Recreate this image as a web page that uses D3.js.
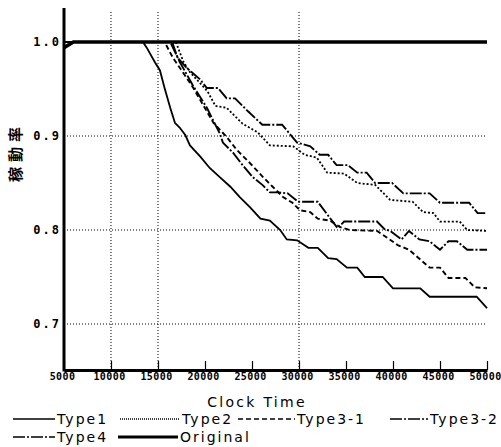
<!DOCTYPE html>
<html>
<head>
<meta charset="utf-8">
<script src="https://cdn.jsdelivr.net/npm/d3@7"></script>
<style>
body { margin: 0; background: #fff; }
svg { display: block; }
.ytick text { font-family: "DejaVu Sans Mono", monospace; font-weight: bold; font-size: 12px; letter-spacing: 2px; }
.xtick text { font-family: "DejaVu Sans Mono", monospace; font-weight: bold; font-size: 10px; letter-spacing: 0.4px; }
.lbl { font-family: "DejaVu Sans", sans-serif; font-size: 14px; letter-spacing: 2px; }
</style>
</head>
<body>
<div class="chart"></div>
<script>
// time, ratio pairs
var type1 = [[5000,1.0],[13400,1.0],[13800,0.994],[14700,0.978],[15200,0.970],[15700,0.951],[16300,0.930],[16800,0.914],[17300,0.909],[17900,0.901],[18400,0.890],[19500,0.878],[20500,0.866],[21600,0.856],[22700,0.846],[23700,0.835],[24800,0.824],[25900,0.812],[26900,0.810],[28000,0.800],[28700,0.790],[29800,0.789],[31000,0.781],[32000,0.781],[33100,0.770],[34000,0.769],[35100,0.760],[36200,0.760],[37000,0.750],[38900,0.750],[40000,0.738],[42900,0.738],[43900,0.729],[48900,0.729],[50000,0.717]];
var type2 = [[5000,1.0],[16900,1.0],[17700,0.979],[18400,0.968],[19500,0.956],[20300,0.947],[21100,0.932],[22300,0.930],[24000,0.913],[25600,0.904],[26900,0.890],[29400,0.889],[30600,0.880],[31900,0.877],[33000,0.861],[34800,0.860],[36200,0.850],[38100,0.848],[39700,0.832],[42100,0.830],[43200,0.819],[44300,0.818],[45000,0.809],[47100,0.809],[47900,0.800],[50000,0.799]];
var type31 = [[5000,1.0],[15700,1.0],[16600,0.983],[17700,0.967],[18700,0.952],[19800,0.933],[20900,0.914],[22300,0.899],[23400,0.885],[24800,0.871],[26200,0.856],[27200,0.846],[28300,0.835],[29300,0.829],[30100,0.821],[31200,0.819],[32000,0.812],[33300,0.810],[34400,0.803],[35400,0.800],[38300,0.799],[39500,0.791],[40500,0.784],[41700,0.779],[43200,0.766],[43900,0.760],[45000,0.760],[45900,0.749],[47700,0.749],[48700,0.739],[50000,0.738]];
var type32 = [[5000,1.0],[16300,1.0],[17300,0.979],[18700,0.954],[20200,0.930],[21600,0.902],[21900,0.893],[23000,0.882],[24000,0.869],[25100,0.856],[26100,0.848],[26900,0.840],[27800,0.840],[28800,0.839],[29900,0.830],[32000,0.830],[34100,0.802],[34800,0.809],[38300,0.809],[39100,0.801],[39700,0.799],[40900,0.790],[41700,0.799],[42800,0.790],[43900,0.788],[45000,0.779],[45900,0.788],[46800,0.788],[47900,0.779],[50000,0.779]];
var type4 = [[5000,1.0],[16500,1.0],[17100,0.983],[18100,0.972],[19500,0.960],[20200,0.951],[21400,0.951],[22300,0.940],[23200,0.940],[24600,0.926],[26100,0.912],[28200,0.912],[29800,0.893],[31200,0.889],[32200,0.880],[33100,0.880],[34000,0.869],[35200,0.869],[36200,0.861],[37200,0.861],[38100,0.850],[39900,0.850],[41100,0.839],[43900,0.839],[45000,0.829],[48100,0.829],[49000,0.818],[50000,0.818]];
var original = [[5000,0.994],[6000,1.0],[50000,1.0]];

var seriesNames = ["Type1", "Type2", "Type3-1", "Type3-2", "Type4", "Original"];
var seriesData = [type1, type2, type31, type32, type4, original];
var xTicks = [5000, 10000, 15000, 20000, 25000, 30000, 35000, 40000, 45000, 50000];
var yTicks = [0.7, 0.8, 0.9, 1.0];
var xGrid = [10000, 15000, 30000];
var yGrid = [0.7, 0.8, 0.9];

// styles and legend layout
var dashes = ["none", "2,2", "5,3", "12,2,2,2", "12,2,2,2", "none"];
var widths = [1.8, 1.8, 1.9, 1.9, 1.9, 3.6];
var legendPos = [[13, 55, 419], [120, 180, 419], [238, 295, 419], [390, 428, 419], [13, 55, 437], [118, 178, 437]];

var width = 501, height = 447;
var svg = d3.select(".chart").append("svg")
	.attr("width", width)
	.attr("height", height);

var x = d3.scaleLinear().domain([5000, 50000]).range([64, 487]);
var y = d3.scaleLinear().domain([0.7, 1.0]).range([324, 42]);

// grid
svg.selectAll("line.hgrid")
	.data(yGrid)
	.enter().append("line")
	.attr("x1", x(5000)).attr("x2", x(50000))
	.attr("y1", function(d){ return y(d); }).attr("y2", function(d){ return y(d); })
	.attr("stroke", "#000").attr("stroke-width", 1).attr("stroke-dasharray", "1,2");

svg.selectAll("line.vgrid")
	.data(xGrid)
	.enter().append("line")
	.attr("x1", function(d){ return x(d); }).attr("x2", function(d){ return x(d); })
	.attr("y1", 12).attr("y2", 370)
	.attr("stroke", "#000").attr("stroke-width", 1).attr("stroke-dasharray", "1,2");

// axes
var xAxis = d3.axisBottom(x).tickValues(xTicks).tickFormat(d3.format("d"))
	.tickSizeInner(-9).tickSizeOuter(0).tickPadding(3);
var gx = svg.append("g")
	.attr("class", "xtick")
	.attr("transform", "translate(0,370)")
	.call(xAxis);
gx.select(".domain").attr("stroke-width", 3);
gx.selectAll(".tick line").attr("stroke-width", 1.2);
gx.selectAll("text").attr("dx", "-2px");

var yAxis = d3.axisLeft(y).tickValues(yTicks).tickFormat(d3.format(".1f")).tickSize(0).tickPadding(3);
var gy = svg.append("g")
	.attr("class", "ytick")
	.attr("transform", "translate(64,0)")
	.call(yAxis);
gy.select(".domain").remove();

svg.append("line")
	.attr("x1", 64).attr("x2", 64)
	.attr("y1", 8).attr("y2", 371.5)
	.attr("stroke", "#000").attr("stroke-width", 3);

// series
var line = d3.line()
	.x(function(d){ return x(d[0]); })
	.y(function(d){ return y(d[1]); });

svg.selectAll("path.series")
	.data(seriesData)
	.enter().append("path")
	.attr("class", "series")
	.attr("d", function(d){ return line(d); })
	.attr("fill", "none")
	.attr("stroke", "#000")
	.attr("stroke-width", function(d, i){ return widths[i]; })
	.attr("stroke-dasharray", function(d, i){ return dashes[i]; });

// titles
svg.append("text")
	.attr("class", "lbl")
	.attr("x", 257).attr("y", 407)
	.attr("text-anchor", "middle")
	.style("letter-spacing", "2.3px")
	.text("Clock Time");

svg.append("text")
	.attr("transform", "translate(21,152) rotate(-90)")
	.attr("text-anchor", "middle")
	.style("font-family", "'Noto Sans CJK JP'")
	.style("font-weight", "bold")
	.style("font-size", "15px")
	.style("letter-spacing", "5px")
	.text("稼動率");

// legend
var leg = svg.selectAll("g.leg")
	.data(seriesNames)
	.enter().append("g")
	.attr("class", "leg");

leg.append("line")
	.attr("x1", function(d, i){ return legendPos[i][0]; })
	.attr("x2", function(d, i){ return legendPos[i][1]; })
	.attr("y1", function(d, i){ return legendPos[i][2]; })
	.attr("y2", function(d, i){ return legendPos[i][2]; })
	.attr("stroke", "#000")
	.attr("stroke-width", function(d, i){ return i == 5 ? 3 : 1.3; })
	.attr("stroke-dasharray", function(d, i){ return i == 1 ? "1,1" : dashes[i]; });

leg.append("text")
	.attr("class", "lbl")
	.attr("x", function(d, i){ return legendPos[i][1] + 2; })
	.attr("y", function(d, i){ return legendPos[i][2] + 5; })
	.text(function(d){ return d; });
</script>
</body>
</html>
